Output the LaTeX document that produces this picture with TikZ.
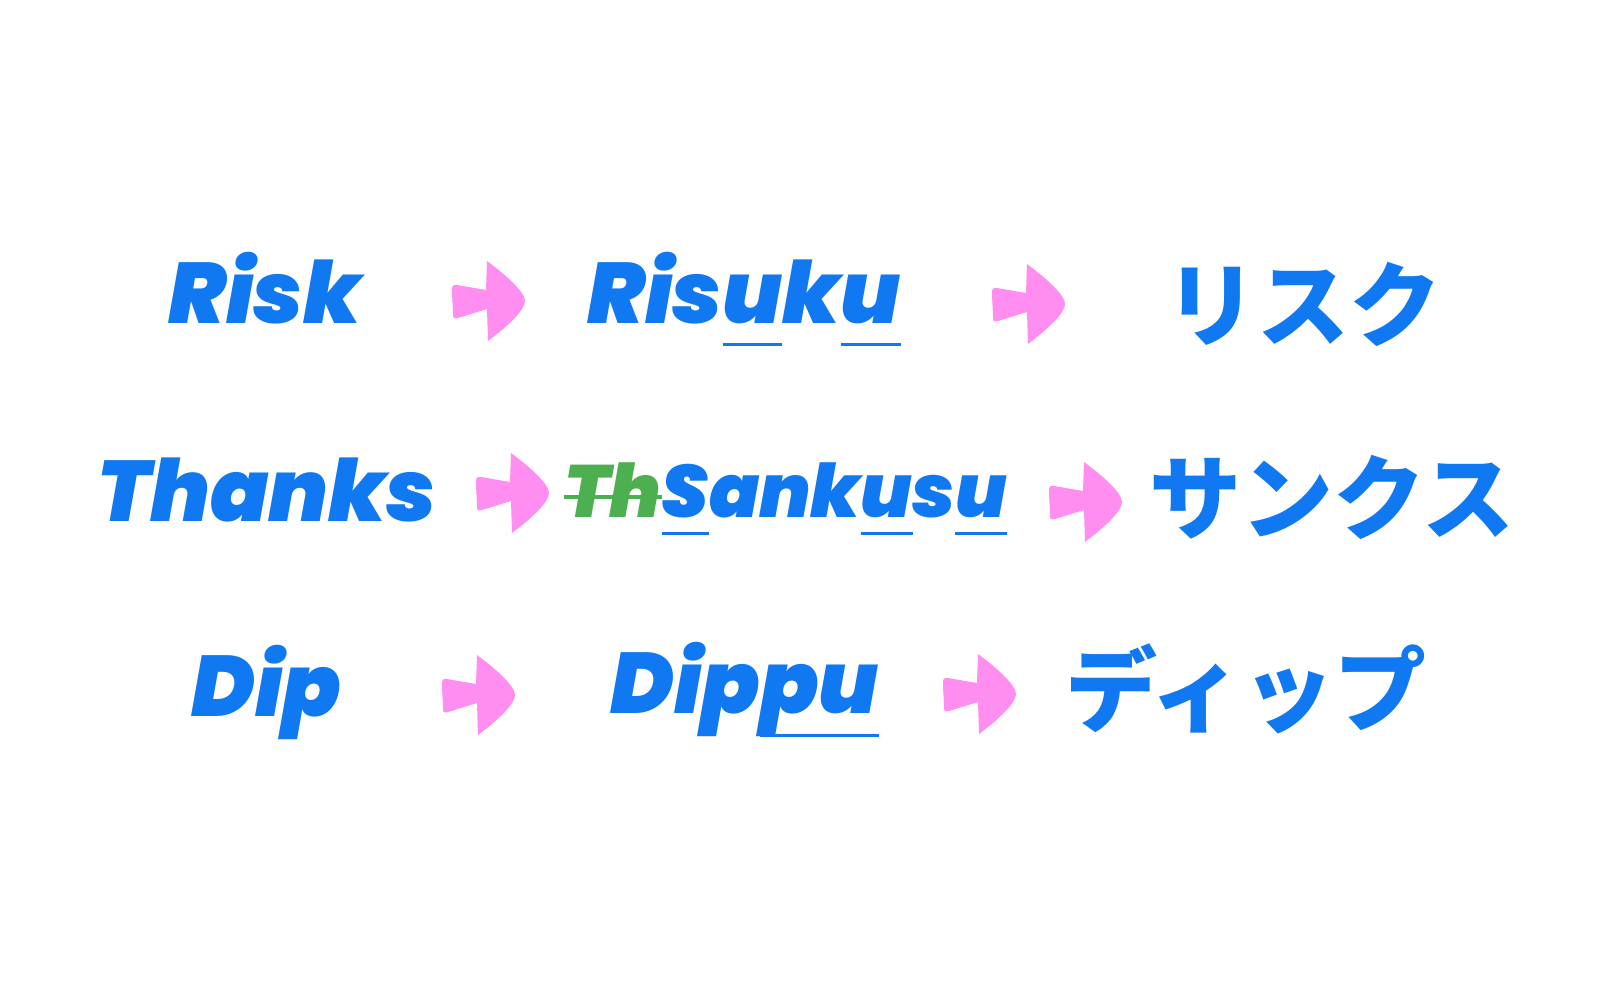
\documentclass[tikz,border=0pt]{standalone}
\usepackage{fontspec}
\setmainfont{Poppins}[BoldItalicFont={Poppins Black Italic}]
\newfontfamily\cjk{Noto Sans CJK JP}
\usepackage{xcolor}
\usetikzlibrary{positioning}

\definecolor{inkblue}{RGB}{16,120,240}
\definecolor{arrowpink}{RGB}{255,142,240}
\definecolor{dropgreen}{RGB}{76,175,80}

% underline / strike helpers
\newlength\marklen
\newcommand\undr[2][11pt]{\settowidth\marklen{#2}\rlap{\color{inkblue}\rule[-#1]{\marklen}{1.6pt}}#2}
\newcommand\strk[1]{\settowidth\marklen{#1}{\color{dropgreen}\rlap{\rule[9.2pt]{\marklen}{1.6pt}}#1}}

\tikzset{
  word/.style={text=inkblue, inner sep=0pt, anchor=base west,
    font=\fontsize{#1}{#1}\selectfont\bfseries\itshape},
  word/.default=43,
  kana/.style={text=inkblue, inner sep=0pt,
    font=\cjk\bfseries\fontsize{46}{46}\selectfont},
  pics/pinkarrow/.style={code={
    \fill[arrowpink] (0,-40) .. controls (20,-25) and (37,-9) .. (37,0) .. controls (37,9) and (18,26) .. (-1,40) -- (-2,11) -- (-31,16) .. controls (-36,16) .. (-36,8) -- (-35,-11) .. controls (-35,-18) .. (-30,-17) -- (-1,-8) -- cycle;
  }}
}

\begin{document}
\begin{tikzpicture}[x=0.5pt,y=0.5pt,yscale=-1,xscale=1]
\useasboundingbox (0,0) rectangle (1600,1000);

% Row: Risk
\node[word] (risk) at (168,323) {Risk};
\pic at (488,301) {pinkarrow};
\node[word] (risuku) at (587,323) {Ris\undr[11.5pt]{u}k\undr[11.5pt]{u}};
\pic at (1028,304) {pinkarrow};
\node[kana] (risukuJp) at (1303,304) {リスク};

% Row: Thanks
\node[word] (thanks) at (97,521) {Thanks};
\pic at (512,493) {pinkarrow};
\node[word=37] (sankusu) at (564,517) {\strk{Th}\undr[9pt]{S}ank\undr[9pt]{u}s\undr[9pt]{u}};
\pic at (1085,502) {pinkarrow};
\node[kana] (sankusuJp) at (1332,497) {サンクス};

% Row: Dip
\node[word] (dip) at (191,716) {Dip};
\pic at (478,695) {pinkarrow};
\node[word] (dippu) at (610,713) {Dip\undr[12pt]{pu}};
\pic at (979,694) {pinkarrow};
\node[kana] (dippuJp) at (1246,689) {ディップ};

\end{tikzpicture}
\end{document}
